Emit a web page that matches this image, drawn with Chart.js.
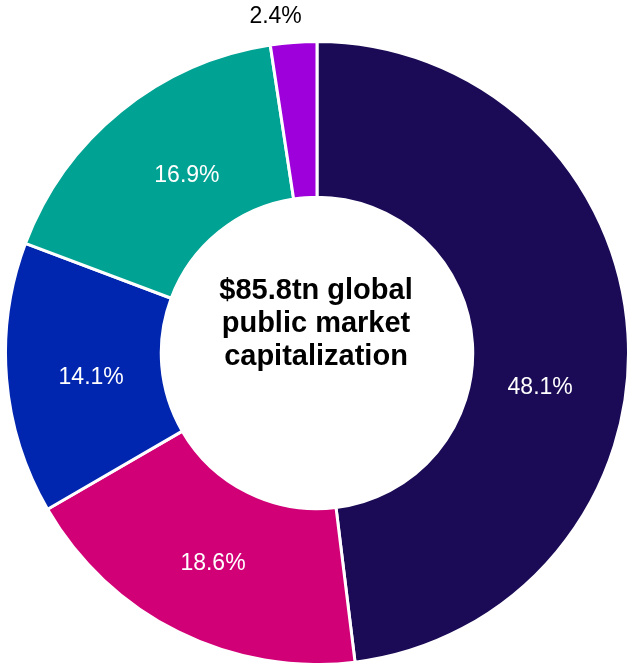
<!DOCTYPE html>
<html>
<head>
<meta charset="utf-8">
<script src="https://cdn.jsdelivr.net/npm/chart.js@4/dist/chart.umd.min.js"></script>
<style>
  html, body { margin: 0; padding: 0; background: #fff; }
  #wrap { width: 628px; height: 663px; position: relative; }
</style>
</head>
<body>
<div id="wrap"><canvas id="cap-chart"></canvas></div>
<script>
// market cap split, % of global total (clockwise from 12 o'clock)
const segments = ['Segment 1', 'Segment 2', 'Segment 3', 'Segment 4', 'Segment 5'];
const shares = [48.1, 18.6, 14.1, 16.9, 2.4];
const sliceColors = ['#1b0a55', '#d20077', '#0026b0', '#00a393', '#9d00da'];
const centerLines = ['$85.8tn global', 'public market', 'capitalization'];

// percent labels drawn on (or just outside) each slice
const sliceLabels = {
  id: 'sliceLabels',
  afterDatasetsDraw(chart, args, opts) {
    const { ctx } = chart;
    const meta = chart.getDatasetMeta(0);
    ctx.save();
    ctx.font = opts.font;
    ctx.textAlign = 'center';
    ctx.textBaseline = 'middle';
    meta.data.forEach((arc, i) => {
      const { x, y, startAngle, endAngle, innerRadius, outerRadius } =
        arc.getProps(['x', 'y', 'startAngle', 'endAngle', 'innerRadius', 'outerRadius'], true);
      const mid = (startAngle + endAngle) / 2;
      const outside = opts.outside.includes(i);
      const r = outside ? outerRadius + 26 : (innerRadius + outerRadius) / 2;
      const [dx, dy] = opts.nudge[i] || [0, 0];
      ctx.fillStyle = outside ? '#000' : '#fff';
      ctx.fillText(shares[i].toFixed(1) + '%', x + Math.cos(mid) * r + dx, y + Math.sin(mid) * r + dy);
    });
    ctx.restore();
  }
};

// bold caption in the hole
const centerText = {
  id: 'centerText',
  afterDraw(chart, args, opts) {
    const { ctx } = chart;
    const arc = chart.getDatasetMeta(0).data[0];
    ctx.save();
    ctx.font = opts.font;
    ctx.fillStyle = '#000';
    ctx.textAlign = 'center';
    ctx.textBaseline = 'middle';
    const top = arc.y - 62;
    centerLines.forEach((line, i) => ctx.fillText(line, arc.x - 1, top + i * 33));
    ctx.restore();
  }
};

new Chart(document.getElementById('cap-chart'), {
  type: 'doughnut',
  data: {
    labels: segments,
    datasets: [{
      data: shares,
      backgroundColor: sliceColors,
      borderColor: '#fff',
      borderWidth: 3,
      radius: 311.5,
      cutout: '50%'
    }]
  },
  options: {
    responsive: true,
    maintainAspectRatio: false,
    animation: false,
    layout: { padding: { top: 43, left: 6, right: 0, bottom: 0 } },
    plugins: {
      legend: { display: false },
      tooltip: { enabled: false },
      sliceLabels: {
        font: '23px "Liberation Sans", Arial, sans-serif',
        outside: [4],
        nudge: [[-10, 49], [0, 1], [7, 5], [17, 4], [-16, 0]]
      },
      centerText: {
        font: 'bold 29px "Liberation Sans", Arial, sans-serif'
      }
    }
  },
  plugins: [sliceLabels, centerText]
});
</script>
</body>
</html>
